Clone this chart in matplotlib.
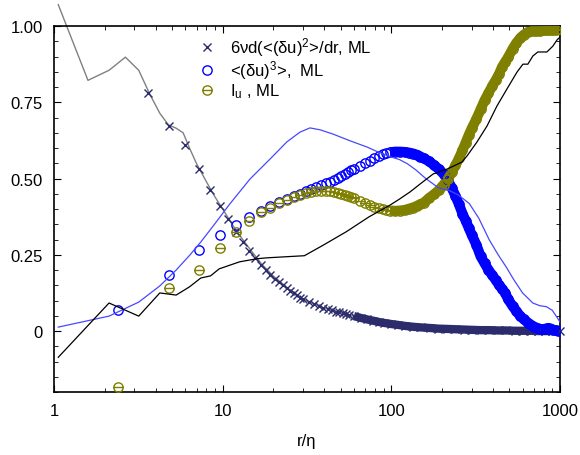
import numpy as np
import matplotlib
matplotlib.use('Agg')
import matplotlib.pyplot as plt
from matplotlib.path import Path
from matplotlib.ticker import FixedLocator, FuncFormatter, NullFormatter

plt.rcParams['font.family'] = ['Liberation Sans', 'DejaVu Sans']
plt.rcParams['mathtext.fontset'] = 'custom'
plt.rcParams['mathtext.rm'] = 'Liberation Sans'
plt.rcParams['mathtext.it'] = 'Liberation Sans:italic'
plt.rcParams['mathtext.sf'] = 'Liberation Sans'
plt.rcParams['mathtext.default'] = 'regular'

# ---------------- data ----------------
# DNS lines
r_dns = [1.06, 2.12, 3.18, 4.24, 5.3, 6.36, 7.42, 8.8, 11.0, 14.5, 19.1, 24.0, 28.7, 32.9,
         37.7, 45.0, 56.8, 72.0, 82.0, 98.0, 112, 125, 140, 160, 190, 220, 250, 290, 330,
         380, 430, 480, 530, 600, 690, 760, 830, 900, 960, 1000]
s3_dns = [0.013, 0.049, 0.095, 0.148, 0.200, 0.248, 0.292, 0.345, 0.416, 0.498, 0.564, 0.620,
          0.652, 0.666, 0.660, 0.646, 0.624, 0.603, 0.589, 0.572, 0.562, 0.548, 0.528, 0.500,
          0.470, 0.461, 0.446, 0.418, 0.370, 0.300, 0.250, 0.210, 0.170, 0.125, 0.092, 0.083,
          0.080, 0.068, 0.045, 0.030]

r_iu_dns = [1.06, 2.12, 3.18, 4.24, 5.3, 6.36, 7.42, 8.48, 9.54, 12.6, 15.9, 18.2, 22.6, 30.5,
            39, 54.2, 74, 97, 112, 129, 148, 177, 214, 262, 281, 322, 369, 423, 484, 556, 603,
            645, 691, 739, 836, 907, 959, 1000]
iu_dns = [-0.086, 0.092, 0.049, 0.125, 0.118, 0.145, 0.174, 0.181, 0.204, 0.227, 0.237, 0.240,
          0.243, 0.247, 0.280, 0.326, 0.375, 0.411, 0.433, 0.456, 0.482, 0.515, 0.531, 0.554,
          0.574, 0.620, 0.672, 0.738, 0.793, 0.849, 0.875, 0.875, 0.902, 0.915, 0.915, 0.934,
          0.954, 0.964]

r_der_dns = [1.06, 1.59, 2.12, 2.65, 3.18, 3.71, 4.24, 4.77, 5.3, 5.83, 6.36, 7.0, 8.0, 9.0, 10,
             12, 14, 17, 20, 25, 30, 40, 60, 100, 200, 400, 1000]
der_dns = [1.07, 0.822, 0.855, 0.898, 0.855, 0.775, 0.714, 0.676, 0.665, 0.650, 0.600, 0.549,
           0.49, 0.44, 0.40, 0.33, 0.28, 0.22, 0.18, 0.135, 0.104, 0.075, 0.048, 0.023, 0.007,
           0.002, 0.0]

# ML markers
r_ml = [2.4, 4.8, 7.2, 9.6, 12.0, 14.4, 16.8, 19.2, 21.6, 24.0, 26.4, 28.8, 31.2, 33.6, 36.0,
        38.4, 40.8, 43.2, 45.6, 48.0, 50.4, 52.8, 55.2, 57.6, 60.0, 64.8, 69.6, 74.4, 79.2,
        84.0, 88.8, 93.6, 98.4, 105.6, 112.8, 120, 127.2, 134.4, 141.6, 148.8, 156, 168, 180,
        192, 204, 216, 228, 240, 252, 264, 276, 288, 300, 319.2, 338.4, 357.6, 376.8, 396,
        415.2, 434.4, 453.6, 472.8, 492, 523.2, 552, 583.2, 612, 643.2, 672, 703.2, 732, 763.2,
        792, 823.2, 852, 883.2, 912, 943.2, 972, 998.4]
s3_ml = [0.069, 0.184, 0.267, 0.316, 0.349, 0.375, 0.395, 0.409, 0.422, 0.433, 0.442, 0.449,
         0.458, 0.466, 0.473, 0.479, 0.485, 0.490, 0.495, 0.503, 0.509, 0.515, 0.521, 0.527,
         0.532, 0.540, 0.550, 0.558, 0.566, 0.573, 0.579, 0.583, 0.586, 0.588, 0.588, 0.587,
         0.585, 0.582, 0.578, 0.572, 0.566, 0.556, 0.543, 0.530, 0.515, 0.495, 0.470, 0.443,
         0.415, 0.385, 0.362, 0.338, 0.315, 0.283, 0.245, 0.222, 0.200, 0.184, 0.168, 0.152,
         0.138, 0.125, 0.105, 0.082, 0.065, 0.048, 0.038, 0.028, 0.020, 0.014, 0.010, 0.007,
         0.006, 0.008, 0.010, 0.008, 0.004, 0.002, 0.001, 0.0]
iu_ml = [-0.183, 0.140, 0.199, 0.273, 0.324, 0.362, 0.391, 0.405, 0.420, 0.430, 0.440, 0.447,
         0.452, 0.456, 0.458, 0.459, 0.459, 0.458, 0.456, 0.453, 0.450, 0.447, 0.443, 0.440,
         0.436, 0.428, 0.421, 0.414, 0.408, 0.403, 0.399, 0.397, 0.395, 0.394, 0.395, 0.397,
         0.401, 0.405, 0.410, 0.416, 0.421, 0.437, 0.449, 0.463, 0.480, 0.498, 0.520, 0.543,
         0.567, 0.592, 0.618, 0.643, 0.665, 0.695, 0.727, 0.757, 0.780, 0.803, 0.822, 0.842,
         0.866, 0.882, 0.897, 0.925, 0.945, 0.962, 0.972, 0.980, 0.984, 0.985, 0.985, 0.985,
         0.986, 0.986, 0.987, 0.987, 0.988, 0.988, 0.989, 0.990]

r_der_ml = [3.6, 4.8, 6.0, 7.2, 8.4, 9.6, 10.8, 12.0, 13.2, 14.4, 15.6, 16.8, 18.0, 19.2, 20.4,
            21.6, 22.8, 24.0, 25.2, 26.4, 27.6, 28.8, 30.0, 32.4, 34.8, 37.2, 39.6, 42.0, 44.4,
            46.8, 49.2, 51.6, 54.0, 56.4, 60, 66, 72, 78, 84, 90, 100, 110, 120, 135, 150, 170,
            190, 215, 240, 270, 300, 340, 380, 430, 480, 540, 600, 670, 740, 820, 900, 1000]
der_ml = [0.780, 0.672, 0.610, 0.531, 0.462, 0.410, 0.368, 0.326, 0.293, 0.262, 0.238, 0.218,
          0.200, 0.185, 0.172, 0.160, 0.150, 0.141, 0.132, 0.124, 0.117, 0.110, 0.104, 0.095,
          0.088, 0.082, 0.077, 0.072, 0.068, 0.064, 0.061, 0.058, 0.055, 0.053, 0.049, 0.043,
          0.038, 0.034, 0.030, 0.027, 0.023, 0.020, 0.017, 0.014, 0.012, 0.010, 0.008, 0.007,
          0.006, 0.005, 0.004, 0.003, 0.003, 0.002, 0.002, 0.001, 0.001, 0.001, 0.0, 0.0, 0.0,
          0.0]

labels = ['6νd(<(δu)$^2$>/dr, ML', '<(δu)$^3$>,  ML', 'I$_u$ , ML']
xticks = [1, 10, 100, 1000]
yticks = [0, 0.25, 0.5, 0.75, 1.0]
ytick_labels = ['0', '0.25', '0.50', '0.75', '1.00']

# --------------- colours -----------------
c_x = '#2c2c6c'
c_blue = '#0000ff'
c_blue_line = '#4848ff'
c_olive = '#808000'
c_grey = '#808080'

circ = Path.unit_circle()
theta_marker = Path(np.concatenate([circ.vertices, [[-1, 0], [1, 0]]]),
                    np.concatenate([circ.codes, [Path.MOVETO, Path.LINETO]]))

fig = plt.figure(figsize=(5.8, 4.56), dpi=100)
ax = fig.add_axes([0.0931, 0.138, 0.8724, 0.8027])
ax.set_xscale('log')
ax.set_xlim(1, 1000)
ax.set_ylim(-0.2, 1.0)

r_der_ml_a = np.array(r_der_ml)
r_ml_a = np.array(r_ml)
dense_x = r_der_ml_a >= 60
dense_c = r_ml_a >= 95

# grey DNS derivative line lies beneath the X markers
ax.plot(r_der_dns, der_dns, '-', color=c_grey, lw=1.0, zorder=1.5, clip_on=False)

# dense bands (solid where the markers overlap)
ax.plot(r_der_ml_a[dense_x], np.array(der_ml)[dense_x], '-', color=c_x, lw=6.0,
        solid_capstyle='butt', zorder=2, clip_on=False)
ax.plot(r_ml_a[dense_c], np.array(s3_ml)[dense_c], '-', color=c_blue, lw=7.3,
        solid_capstyle='butt', zorder=2)
ax.plot(r_ml_a[dense_c], np.array(iu_ml)[dense_c], '-', color=c_olive, lw=7.3,
        solid_capstyle='butt', zorder=2)

h1, = ax.plot(r_der_ml, der_ml, 'x', color=c_x, ms=6.3, mew=1.0, zorder=3, clip_on=False)
h2, = ax.plot(r_ml, s3_ml, 'o', color=c_blue, mfc='none', ms=6.7, mew=1.0, zorder=3)
h3, = ax.plot(r_ml, iu_ml, marker=theta_marker, ls='none', color=c_olive, mfc='none',
              ms=6.7, mew=1.0, zorder=3)

ax.plot(r_dns, s3_dns, '-', color=c_blue_line, lw=0.9, zorder=4)
ax.plot(r_iu_dns, iu_dns, '-', color='black', lw=0.9, zorder=4)

ax.xaxis.set_major_locator(FixedLocator(xticks))
ax.xaxis.set_major_formatter(FuncFormatter(lambda v, p: f'{v:g}'))
ax.xaxis.set_minor_formatter(NullFormatter())
ax.yaxis.set_major_locator(FixedLocator(yticks))
ax.yaxis.set_major_formatter(FuncFormatter(lambda v, p: ytick_labels[yticks.index(round(v, 2))]))
ax.yaxis.set_minor_locator(FixedLocator(np.arange(-0.2, 1.001, 0.05)))
ax.tick_params(which='both', direction='in', top=True, right=True, labelsize=12)
ax.tick_params(which='major', length=5, width=0.8)
ax.tick_params(which='minor', length=3, width=0.6)
ax.tick_params(axis='x', pad=8)
ax.tick_params(axis='y', pad=8)
for s in ax.spines.values():
    s.set_linewidth(1.2)

ax.set_xlabel('r/η', fontsize=12, labelpad=11)

ax.legend([h1, h2, h3], labels, loc='upper left', bbox_to_anchor=(0.285, 0.975),
          frameon=False, fontsize=12, handlelength=1.0, handletextpad=0.9,
          labelspacing=0.02, borderaxespad=0, borderpad=0)

fig.savefig('out.png', dpi=100)
